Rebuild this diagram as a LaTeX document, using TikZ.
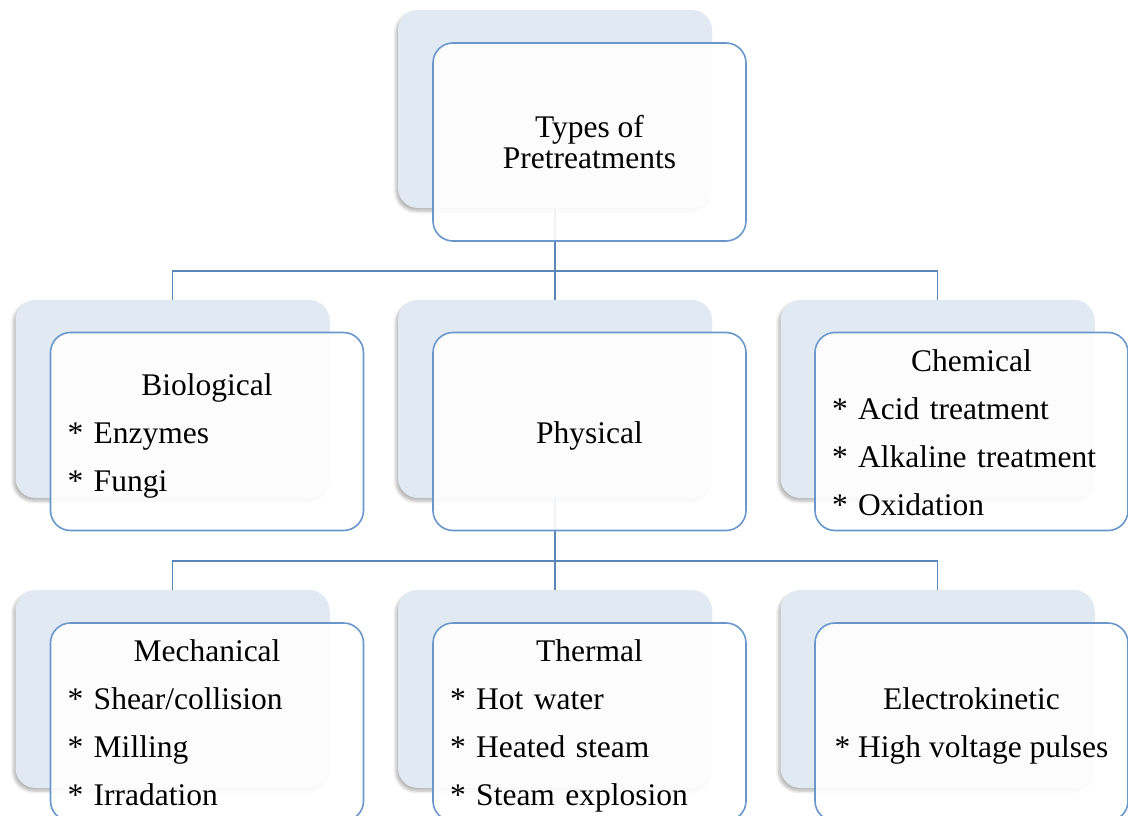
\documentclass[tikz,border=0pt]{standalone}
\usepackage{fontspec}
\setmainfont{Liberation Serif}
\usetikzlibrary{shadows,shadows.blur}
\definecolor{backfill}{HTML}{E1E9F3}
\definecolor{frontline}{HTML}{6A97CB}
\definecolor{connline}{HTML}{5A85B8}
\newlength\tw \setlength\tw{279pt}
\newcommand\ttl[1]{\makebox[\tw][c]{#1}}
\tikzset{
 backbox/.style={rectangle, rounded corners=20pt, fill=backfill, minimum width=314pt, minimum height=198pt, inner sep=0pt,
   blur shadow={shadow xshift=-2pt, shadow yshift=-3pt, shadow blur steps=6, shadow blur radius=3pt, shadow opacity=30}},
 frontbox/.style={rectangle, rounded corners=20pt, draw=frontline, line width=1.6pt, fill=white, fill opacity=0.9,
   minimum width=313pt, minimum height=198pt, inner sep=0pt},
 txt/.style={text width=\tw, inner sep=0pt, align=left, font=\fontsize{31.5}{48}\selectfont},
 txtc/.style={inner sep=0pt, align=center, font=\fontsize{31.5}{48}\selectfont},
 conn/.style={draw=connline, line width=1.8pt},
}
\begin{document}
\begin{tikzpicture}[x=1pt,y=-1pt]
\useasboundingbox (0,0) rectangle (1128,816);
% back boxes
\node[backbox] (tb) at (555,109) {};
\node[backbox] (b1) at (172.5,399) {};
\node[backbox] (b2) at (555,399) {};
\node[backbox] (b3) at (937.5,399) {};
\node[backbox] (c1) at (172.5,689) {};
\node[backbox] (c2) at (555,689) {};
\node[backbox] (c3) at (937.5,689) {};
% connectors
\draw[conn] (b1.north) -- ++(0,-29) -| (b3.north);
\draw[conn] (tb.south) -- (b2.north);
\draw[conn] (c1.north) -- ++(0,-29) -| (c3.north);
\draw[conn] (b2.south) -- (c2.north);
% front boxes
\node[frontbox] (t) at (589.5,142) {};
\node[frontbox] (f1) at (207,431.5) {};
\node[frontbox] (f2) at (589.5,431.5) {};
\node[frontbox] (f3) at (971.5,431.5) {};
\node[frontbox] (g1) at (207,722) {};
\node[frontbox] (g2) at (589.5,722) {};
\node[frontbox] (g3) at (971.5,722) {};
% texts
\node[txtc, font=\fontsize{31.5}{31}\selectfont] (tt) at (t.center) {Types of\\Pretreatments};
\node[txt] (f1t) at ([yshift=-4pt]f1.center) {\ttl{Biological}\\{*} Enzymes\\{*} Fungi};
\node[txtc] (f2t) at ([yshift=-4pt]f2.center) {Physical};
\node[txt] (f3t) at ([yshift=-1pt]f3.center) {\ttl{Chemical}\\{*} Acid treatment\\{*} Alkaline treatment\\{*} Oxidation};
\node[txt] (g1t) at ([yshift=-1pt]g1.center) {\ttl{Mechanical}\\{*} Shear/collision\\{*} Milling\\{*} Irradation};
\node[txt] (g2t) at ([yshift=-4pt]g2.center) {\ttl{Thermal}\\{*} Hot water\\{*} Heated steam\\{*} Steam explosion};
\node[txtc] (g3t) at ([yshift=-4pt]g3.center) {Electrokinetic\\{*} High voltage pulses};
\end{tikzpicture}
\end{document}
